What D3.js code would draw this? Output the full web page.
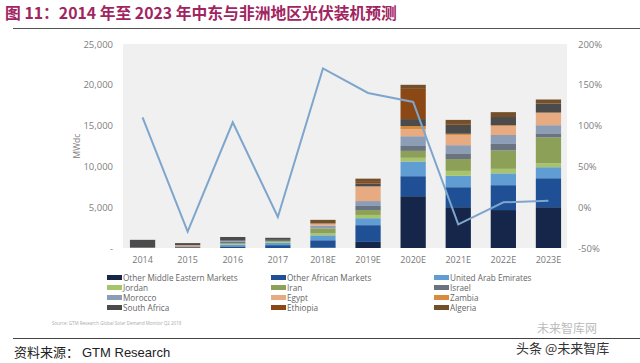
<!DOCTYPE html>
<html>
<head>
<meta charset="utf-8">
<style>
  body { margin: 0; background: #fff; }
  svg { display: block; }
  text { font-family: 'Open Sans', 'Noto Sans', sans-serif; }
</style>
</head>
<body>
<svg width="640" height="363"></svg>
<script src="https://d3js.org/d3.v7.min.js"></script>
<script>
// data
let years = ["2014", "2015", "2016", "2017", "2018E", "2019E", "2020E", "2021E", "2022E", "2023E"];
let seriesNames = ["Other Middle Eastern Markets", "Other African Markets", "United Arab Emirates",
  "Jordan", "Iran", "Israel", "Morocco", "Egypt", "Zambia", "South Africa", "Ethiopia", "Algeria"];
let seriesColors = ["#15264a", "#1f4f94", "#609dd3", "#a8c46a", "#8ca157", "#6a7380",
  "#8c9db6", "#e8aa80", "#d88b3c", "#4b4b4b", "#8b4814", "#74502a"];

let otherME      = [0, 0, 0, 0, 50, 750, 6350, 5000, 4650, 5000];
let otherAfrica  = [0, 0, 200, 350, 900, 2050, 2450, 2450, 3050, 3550];
let uae          = [0, 0, 200, 300, 600, 850, 1800, 1400, 1450, 1350];
let jordan       = [0, 0, 150, 100, 250, 400, 450, 600, 550, 500];
let iran         = [0, 0, 0, 100, 600, 600, 850, 1450, 2250, 3150];
let israel       = [100, 200, 200, 150, 0, 500, 600, 700, 800, 500];
let morocco      = [0, 0, 150, 0, 350, 600, 1200, 1000, 1100, 1000];
let egypt        = [0, 150, 0, 0, 250, 1800, 850, 1200, 1100, 1450];
let zambia       = [0, 0, 0, 0, 0, 0, 400, 200, 100, 100];
let southAfrica  = [900, 250, 450, 250, 0, 350, 850, 1100, 1000, 1100];
let ethiopia     = [0, 0, 0, 0, 0, 200, 3700, 100, 0, 0];
let algeria      = [0, 0, 0, 0, 450, 400, 500, 500, 600, 500];
let growth = [1.10, -0.30, 1.04, -0.12, 1.70, 1.40, 1.29, -0.21, 0.06, 0.08];

let leftTicks = [0, 5000, 10000, 15000, 20000, 25000];
let rightTicks = [-0.5, 0, 0.5, 1, 1.5, 2];

let seriesValues = [otherME, otherAfrica, uae, jordan, iran, israel, morocco, egypt, zambia, southAfrica, ethiopia, algeria];

let svg = d3.select("svg");

// title
svg.append("text")
  .attr("x", 5).attr("y", 19)
  .attr("fill", "#a1245f")
  .attr("font-size", 15.8).attr("font-weight", "bold")
  .style("font-family", "'Noto Sans CJK SC', sans-serif")
  .text("图 11：2014 年至 2023 年中东与非洲地区光伏装机预测");
svg.append("line").attr("x1", 13).attr("x2", 640).attr("y1", 28.5).attr("y2", 28.5)
  .attr("stroke", "#555").attr("stroke-width", 1.2);

// plot area
let plot = { left: 123, right: 567, top: 44, bottom: 248 };
svg.append("rect")
  .attr("x", plot.left).attr("y", plot.top)
  .attr("width", plot.right - plot.left).attr("height", plot.bottom - plot.top)
  .attr("fill", "#f0f0f0");

let x = d3.scaleBand().domain(years).range([120, 571]).paddingInner(0.44).paddingOuter(0.22);
let y = d3.scaleLinear().domain([0, 25000]).range([plot.bottom, plot.top]);
let y2 = d3.scaleLinear().domain([-0.5, 2]).range([plot.bottom, plot.top]);

let table = years.map((yr, i) => {
  let row = { year: yr };
  seriesNames.forEach((s, j) => row[s] = seriesValues[j][i]);
  return row;
});
let stacked = d3.stack().keys(seriesNames)(table);

svg.append("g").selectAll("g")
  .data(stacked)
  .join("g")
  .attr("fill", (d, i) => seriesColors[i])
  .selectAll("rect")
  .data(d => d)
  .join("rect")
  .attr("x", d => x(d.data.year))
  .attr("width", x.bandwidth())
  .attr("y", d => y(d[1]))
  .attr("height", d => y(d[0]) - y(d[1]));

// growth line
let line = d3.line()
  .x((d, i) => x(years[i]) + x.bandwidth() / 2)
  .y(d => y2(d));
svg.append("path")
  .datum(growth)
  .attr("d", line)
  .attr("fill", "none")
  .attr("stroke", "#7ea6cc")
  .attr("stroke-width", 2);

// left axis
let fmt = d3.format(",");
svg.append("g").selectAll("text")
  .data(leftTicks)
  .join("text")
  .attr("x", 113).attr("y", d => y(d) + 3.5)
  .attr("text-anchor", "end")
  .attr("font-size", 9.5).attr("fill", "#808080")
  .text(d => d === 0 ? "-" : fmt(d));
svg.append("text")
  .attr("transform", "translate(80,146) rotate(-90)")
  .attr("text-anchor", "middle")
  .attr("font-size", 8.5).attr("fill", "#808080")
  .text("MWdc");

// right axis
svg.append("g").selectAll("text")
  .data(rightTicks)
  .join("text")
  .attr("x", 578).attr("y", d => y2(d) + 3.5)
  .attr("font-size", 9.5).attr("fill", "#808080")
  .text(d => Math.round(d * 100) + "%");

// x labels
svg.append("g").selectAll("text")
  .data(years)
  .join("text")
  .attr("x", d => x(d) + x.bandwidth() / 2).attr("y", 263)
  .attr("text-anchor", "middle")
  .attr("font-size", 9).attr("fill", "#777")
  .text(d => d);

// legend: 3 columns, read row by row
let colX = [107, 271, 434];
let legend = svg.append("g").selectAll("g")
  .data(seriesNames)
  .join("g")
  .attr("transform", (d, i) => `translate(${colX[i % 3]},${278 + Math.floor(i / 3) * 10})`);
legend.append("rect")
  .attr("x", 0).attr("y", -3).attr("width", 15).attr("height", 5)
  .attr("fill", (d, i) => seriesColors[i]);
legend.append("text")
  .attr("x", 16).attr("y", 2.5)
  .attr("font-size", 8.2).attr("fill", "#666")
  .text(d => d);

svg.append("text")
  .attr("x", 52).attr("y", 325)
  .attr("font-size", 4.5).attr("fill", "#aaa")
  .text("Source: GTM Research Global Solar Demand Monitor Q2 2018");

// footer
svg.append("line").attr("x1", 13).attr("x2", 640).attr("y1", 338.5).attr("y2", 338.5)
  .attr("stroke", "#444").attr("stroke-width", 1);
svg.append("text")
  .attr("x", 14).attr("y", 357)
  .attr("font-size", 13).attr("fill", "#222")
  .style("font-family", "'Noto Sans CJK SC', sans-serif")
  .text("资料来源：");
svg.append("text")
  .attr("x", 82).attr("y", 357)
  .attr("font-size", 13).attr("fill", "#222")
  .style("font-family", "'Liberation Sans', Arial, sans-serif")
  .text("GTM Research");
svg.append("text")
  .attr("x", 537).attr("y", 333)
  .attr("font-size", 12).attr("fill", "#bbb")
  .style("font-family", "'Noto Sans CJK SC', sans-serif")
  .text("未来智库网");
svg.append("text")
  .attr("x", 516).attr("y", 353)
  .attr("font-size", 13).attr("fill", "#333")
  .style("font-family", "'Noto Sans CJK SC', sans-serif")
  .text("头条 @未来智库");
</script>
</body>
</html>
